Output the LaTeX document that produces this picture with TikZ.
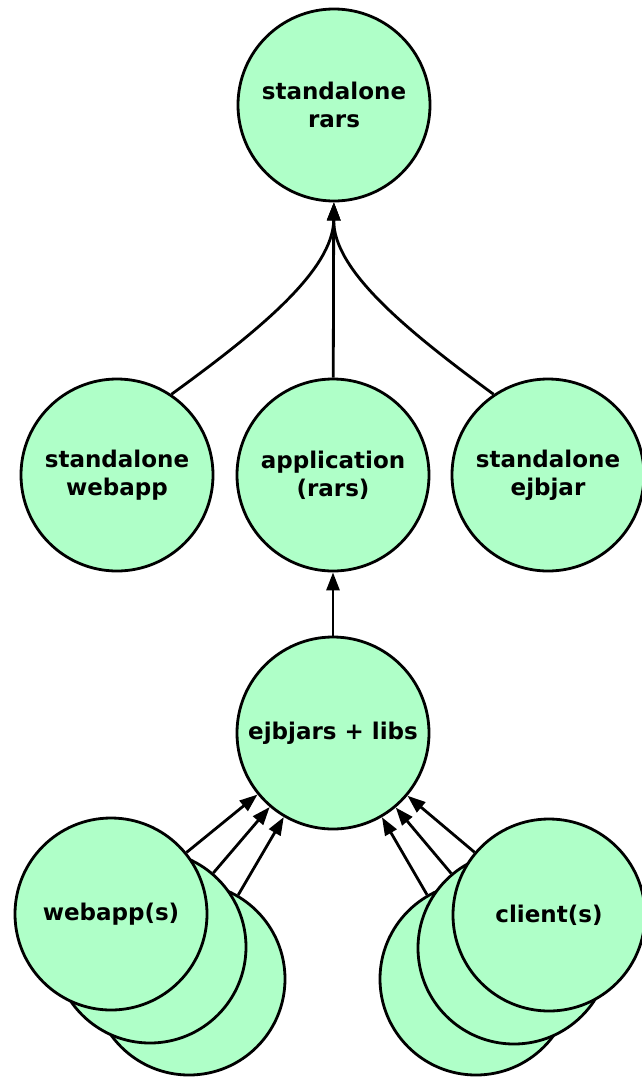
\documentclass[tikz,border=0pt]{standalone}
\usepackage{fontspec}
\setmainfont{DejaVu Sans}
\usetikzlibrary{arrows.meta}
\definecolor{nodegreen}{RGB}{175,255,200}
\begin{document}
\begin{tikzpicture}[x=1pt,y=-1pt,
  blob/.style={circle,draw=black,fill=nodegreen,line width=2.8pt,minimum size=192pt,inner sep=0pt,align=center,font=\bfseries\fontsize{23}{28}\selectfont},
  edge/.style={line width=2.8pt,-{Triangle[length=18pt,width=13pt]}}]
\useasboundingbox (0,0) rectangle (642,1077);
\node[blob] (top) at (334,105) {standalone\\rars};
\node[blob] (sw) at (117,475) {standalone\\webapp};
\node[blob] (app) at (333,475) {application\\(rars)};
\node[blob] (se) at (548,475) {standalone\\ejbjar};
\node[blob] (ejb) at (333,733) {ejbjars + libs};
\node[blob] (w3) at (189,979) {};
\node[blob] (w2) at (150,947) {};
\node[blob] (w1) at (111,914) {webapp(s)};
\node[blob] (c3) at (476,979) {};
\node[blob] (c2) at (514,948) {};
\node[blob] (c1) at (549,915) {client(s)};
\draw[edge] (sw.56) .. controls (260,330) and (333,270) .. (top.south);
\draw[edge] (se.124) .. controls (406,330) and (333,270) .. (top.south);
\draw[edge] (app) -- (top);
\draw[edge] (ejb) -- (app);
\draw[edge] (w1) -- (ejb);
\draw[edge] (w2) -- (ejb);
\draw[edge] (w3) -- (ejb);
\draw[edge] (c1) -- (ejb);
\draw[edge] (c2) -- (ejb);
\draw[edge] (c3) -- (ejb);
\end{tikzpicture}
\end{document}
